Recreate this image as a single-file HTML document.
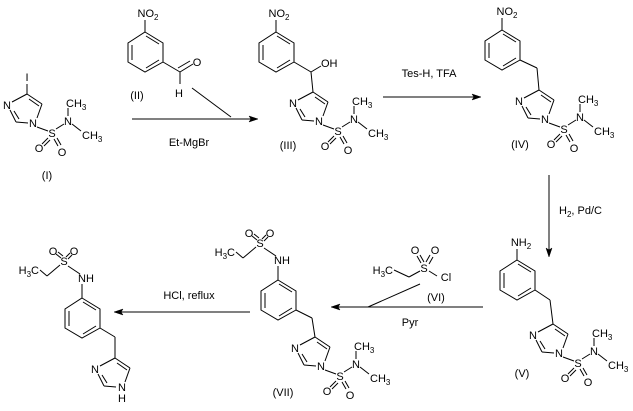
<!DOCTYPE html>
<html><head><meta charset="utf-8"><style>
html,body{margin:0;padding:0;background:#fff}
svg{display:block}
line,polyline,polygon.r{stroke:#000;stroke-width:1;fill:none}
polygon.a{fill:#000;stroke:#000;stroke-width:0.5}
text{font-family:"Liberation Sans",Arial,sans-serif;font-size:11px;fill:#000;text-anchor:middle}
.s{text-anchor:start}.e{text-anchor:end}
</style></head><body>
<svg width="633" height="411" viewBox="0 0 633 411" xmlns="http://www.w3.org/2000/svg">

<!-- unit I -->
<g transform="translate(0,0)">
<line x1="27" y1="84" x2="27" y2="94"/><text x="27" y="81">I</text>
<line x1="27" y1="94" x2="42" y2="104"/><line x1="29" y1="99" x2="39" y2="106"/><line x1="42" y1="104" x2="37" y2="118"/><line x1="16" y1="122" x2="28" y2="123"/><line x1="16" y1="122" x2="10" y2="110"/><line x1="19" y1="119" x2="14" y2="111"/><line x1="12" y1="102" x2="27" y2="94"/>
<text x="33" y="127">N</text><text x="7" y="109">N</text>
<line x1="37" y1="127" x2="48" y2="131"/><text x="52" y="137">S</text><line x1="56" y1="129" x2="64" y2="124"/><text x="68" y="125">N</text>
<line x1="68" y1="116" x2="68" y2="108"/><text class="s" x="66" y="107">CH<tspan font-size="8" dy="3">3</tspan></text>
<line x1="72" y1="124" x2="81" y2="131"/><text class="s" x="82" y="139">CH<tspan font-size="8" dy="3">3</tspan></text>
<line x1="48" y1="138" x2="42" y2="144"/><line x1="50" y1="140" x2="44" y2="146"/><line x1="54" y1="139" x2="58" y2="146"/><line x1="57" y1="138" x2="61" y2="145"/>
<text x="39" y="152">O</text><text x="62" y="156">O</text>
</g>

<!-- unit III -->
<g transform="translate(286,-2)">
<line x1="27" y1="94" x2="42" y2="104"/><line x1="29" y1="99" x2="39" y2="106"/><line x1="42" y1="104" x2="37" y2="118"/><line x1="16" y1="122" x2="28" y2="123"/><line x1="16" y1="122" x2="10" y2="110"/><line x1="19" y1="119" x2="14" y2="111"/><line x1="12" y1="102" x2="27" y2="94"/>
<text x="33" y="127">N</text><text x="7" y="109">N</text>
<line x1="37" y1="127" x2="48" y2="131"/><text x="52" y="137">S</text><line x1="56" y1="129" x2="64" y2="124"/><text x="68" y="125">N</text>
<line x1="68" y1="116" x2="68" y2="108"/><text class="s" x="66" y="107">CH<tspan font-size="8" dy="3">3</tspan></text>
<line x1="72" y1="124" x2="81" y2="131"/><text class="s" x="82" y="139">CH<tspan font-size="8" dy="3">3</tspan></text>
<line x1="48" y1="138" x2="42" y2="144"/><line x1="50" y1="140" x2="44" y2="146"/><line x1="54" y1="139" x2="58" y2="146"/><line x1="57" y1="138" x2="61" y2="145"/>
<text x="39" y="152">O</text><text x="62" y="156">O</text>
</g>

<!-- unit IV -->
<g transform="translate(512,-4)">
<line x1="27" y1="94" x2="42" y2="104"/><line x1="29" y1="99" x2="39" y2="106"/><line x1="42" y1="104" x2="37" y2="118"/><line x1="16" y1="122" x2="28" y2="123"/><line x1="16" y1="122" x2="10" y2="110"/><line x1="19" y1="119" x2="14" y2="111"/><line x1="12" y1="102" x2="27" y2="94"/>
<text x="33" y="127">N</text><text x="7" y="109">N</text>
<line x1="37" y1="127" x2="48" y2="131"/><text x="52" y="137">S</text><line x1="56" y1="129" x2="64" y2="124"/><text x="68" y="125">N</text>
<line x1="68" y1="116" x2="68" y2="108"/><text class="s" x="66" y="107">CH<tspan font-size="8" dy="3">3</tspan></text>
<line x1="72" y1="124" x2="81" y2="131"/><text class="s" x="82" y="139">CH<tspan font-size="8" dy="3">3</tspan></text>
<line x1="48" y1="138" x2="42" y2="144"/><line x1="50" y1="140" x2="44" y2="146"/><line x1="54" y1="139" x2="58" y2="146"/><line x1="57" y1="138" x2="61" y2="145"/>
<text x="39" y="152">O</text><text x="62" y="156">O</text>
</g>

<!-- unit V -->
<g transform="translate(526,230)">
<line x1="27" y1="94" x2="42" y2="104"/><line x1="29" y1="99" x2="39" y2="106"/><line x1="42" y1="104" x2="37" y2="118"/><line x1="16" y1="122" x2="28" y2="123"/><line x1="16" y1="122" x2="10" y2="110"/><line x1="19" y1="119" x2="14" y2="111"/><line x1="12" y1="102" x2="27" y2="94"/>
<text x="33" y="127">N</text><text x="7" y="109">N</text>
<line x1="37" y1="127" x2="48" y2="131"/><text x="52" y="137">S</text><line x1="56" y1="129" x2="64" y2="124"/><text x="68" y="125">N</text>
<line x1="68" y1="116" x2="68" y2="108"/><text class="s" x="66" y="107">CH<tspan font-size="8" dy="3">3</tspan></text>
<line x1="72" y1="124" x2="81" y2="131"/><text class="s" x="82" y="139">CH<tspan font-size="8" dy="3">3</tspan></text>
<line x1="48" y1="138" x2="42" y2="144"/><line x1="50" y1="140" x2="44" y2="146"/><line x1="54" y1="139" x2="58" y2="146"/><line x1="57" y1="138" x2="61" y2="145"/>
<text x="39" y="152">O</text><text x="62" y="156">O</text>
</g>

<!-- unit VII -->
<g transform="translate(288,243)">
<line x1="27" y1="94" x2="42" y2="104"/><line x1="29" y1="99" x2="39" y2="106"/><line x1="42" y1="104" x2="37" y2="118"/><line x1="16" y1="122" x2="28" y2="123"/><line x1="16" y1="122" x2="10" y2="110"/><line x1="19" y1="119" x2="14" y2="111"/><line x1="12" y1="102" x2="27" y2="94"/>
<text x="33" y="127">N</text><text x="7" y="109">N</text>
<line x1="37" y1="127" x2="48" y2="131"/><text x="52" y="137">S</text><line x1="56" y1="129" x2="64" y2="124"/><text x="68" y="125">N</text>
<line x1="68" y1="116" x2="68" y2="108"/><text class="s" x="66" y="107">CH<tspan font-size="8" dy="3">3</tspan></text>
<line x1="72" y1="124" x2="81" y2="131"/><text class="s" x="82" y="139">CH<tspan font-size="8" dy="3">3</tspan></text>
<line x1="48" y1="138" x2="42" y2="144"/><line x1="50" y1="140" x2="44" y2="146"/><line x1="54" y1="139" x2="58" y2="146"/><line x1="57" y1="138" x2="61" y2="145"/>
<text x="39" y="152">O</text><text x="62" y="156">O</text>
</g>

<!-- final imidazole (NH) -->
<g transform="translate(88,264)">
<line x1="27" y1="94" x2="42" y2="104"/><line x1="29" y1="99" x2="39" y2="106"/><line x1="42" y1="104" x2="37" y2="118"/><line x1="16" y1="122" x2="28" y2="123"/><line x1="16" y1="122" x2="10" y2="110"/><line x1="19" y1="119" x2="14" y2="111"/><line x1="12" y1="102" x2="27" y2="94"/>
<text x="34" y="127">N</text><text x="7" y="109">N</text><text x="34" y="138">H</text>
</g>

<!-- benzene rings -->
<g transform="translate(145,32)"><polygon class="r" points="0,0 18,11 18,30 0,40 -17,30 -17,11"/><line x1="1" y1="4" x2="14" y2="12"/><line x1="14" y1="28" x2="1" y2="36"/><line x1="-13" y1="28" x2="-13" y2="13"/></g>
<g transform="translate(276,32)"><polygon class="r" points="0,0 18,11 18,30 0,40 -17,30 -17,11"/><line x1="1" y1="4" x2="14" y2="12"/><line x1="14" y1="28" x2="1" y2="36"/><line x1="-13" y1="28" x2="-13" y2="13"/></g>
<g transform="translate(502,30)"><polygon class="r" points="0,0 18,11 18,30 0,40 -17,30 -17,11"/><line x1="1" y1="4" x2="14" y2="12"/><line x1="14" y1="28" x2="1" y2="36"/><line x1="-13" y1="28" x2="-13" y2="13"/></g>
<g transform="translate(517,260)"><polygon class="r" points="0,0 18,11 18,30 0,40 -17,30 -17,11"/><line x1="1" y1="4" x2="14" y2="12"/><line x1="14" y1="28" x2="1" y2="36"/><line x1="-13" y1="28" x2="-13" y2="13"/></g>
<g transform="translate(278,280)"><polygon class="r" points="0,0 18,11 18,30 0,40 -17,30 -17,11"/><line x1="1" y1="4" x2="14" y2="12"/><line x1="14" y1="28" x2="1" y2="36"/><line x1="-13" y1="28" x2="-13" y2="13"/></g>
<g transform="translate(82,298)"><polygon class="r" points="0,0 18,11 18,30 0,40 -17,30 -17,11"/><line x1="1" y1="4" x2="14" y2="12"/><line x1="14" y1="28" x2="1" y2="36"/><line x1="-13" y1="28" x2="-13" y2="13"/></g>

<!-- II substituents -->
<line x1="145" y1="32" x2="145" y2="20"/><text x="148" y="17">NO<tspan font-size="8" dy="3">2</tspan></text>
<line x1="163" y1="62" x2="180" y2="72"/><line x1="180" y1="72" x2="193" y2="64"/><line x1="178" y1="68" x2="190" y2="61"/>
<text x="197" y="66">O</text><line x1="180" y1="72" x2="180" y2="84"/><text x="179" y="97">H</text>
<text x="137" y="99">(II)</text>

<!-- III substituents -->
<line x1="276" y1="32" x2="276" y2="20"/><text x="279" y="17">NO<tspan font-size="8" dy="3">2</tspan></text>
<line x1="294" y1="62" x2="311" y2="72"/><line x1="311" y1="72" x2="321" y2="66"/><text class="s" x="321" y="67">OH</text>
<line x1="311" y1="72" x2="313" y2="92"/>
<text x="288" y="149">(III)</text>

<!-- IV substituents -->
<line x1="502" y1="30" x2="502" y2="18"/><text x="507" y="15">NO<tspan font-size="8" dy="3">2</tspan></text>
<line x1="520" y1="60" x2="537" y2="68"/><line x1="537" y1="68" x2="539" y2="90"/>
<text x="520" y="148">(IV)</text>

<!-- V substituents -->
<line x1="517" y1="260" x2="517" y2="249"/><text x="521" y="246">NH<tspan font-size="8" dy="3">2</tspan></text>
<line x1="535" y1="290" x2="550" y2="300"/><line x1="550" y1="300" x2="553" y2="324"/>
<text x="522" y="377">(V)</text>

<!-- VII substituents -->
<g>
<line x1="278" y1="280" x2="278" y2="266"/><text class="s" x="274" y="264">NH</text>
<line x1="276" y1="256" x2="264" y2="248"/><text x="260" y="247">S</text>
<line x1="256" y1="247" x2="243" y2="258"/><line x1="243" y1="258" x2="236" y2="252"/>
<text class="e" x="235" y="256">H<tspan font-size="8" dy="3">3</tspan><tspan dy="-3">C</tspan></text>
<line x1="257" y1="240" x2="252" y2="236"/><line x1="259" y1="238" x2="254" y2="234"/>
<line x1="262" y1="239" x2="266" y2="235"/><line x1="264" y1="241" x2="268" y2="237"/>
<text x="249" y="237">O</text><text x="270" y="237">O</text>
</g>
<line x1="296" y1="310" x2="312" y2="318"/><line x1="312" y1="318" x2="315" y2="337"/>
<text x="283" y="396">(VII)</text>

<!-- final substituents -->
<g transform="translate(-196,18)">
<line x1="278" y1="280" x2="278" y2="266"/><text class="s" x="274" y="264">NH</text>
<line x1="276" y1="256" x2="264" y2="248"/><text x="260" y="247">S</text>
<line x1="256" y1="247" x2="243" y2="258"/><line x1="243" y1="258" x2="236" y2="252"/>
<text class="e" x="235" y="256">H<tspan font-size="8" dy="3">3</tspan><tspan dy="-3">C</tspan></text>
<line x1="257" y1="240" x2="252" y2="236"/><line x1="259" y1="238" x2="254" y2="234"/>
<line x1="262" y1="239" x2="266" y2="235"/><line x1="264" y1="241" x2="268" y2="237"/>
<text x="249" y="237">O</text><text x="270" y="237">O</text>
</g>
<line x1="100" y1="328" x2="115" y2="337"/><line x1="115" y1="337" x2="115" y2="358"/>

<!-- VI reagent -->
<text class="e" x="393" y="274">H<tspan font-size="8" dy="3">3</tspan><tspan dy="-3">C</tspan></text>
<line x1="394" y1="270" x2="409" y2="277"/><line x1="409" y1="277" x2="420" y2="271"/>
<text x="424" y="272">S</text><line x1="429" y1="271" x2="437" y2="276"/><text x="446" y="281">Cl</text>
<line x1="421" y1="263" x2="417" y2="256"/><line x1="424" y1="262" x2="420" y2="255"/>
<line x1="426" y1="262" x2="430" y2="255"/><line x1="429" y1="264" x2="433" y2="257"/>
<text x="415" y="254">O</text><text x="435" y="254">O</text>
<text x="436" y="301">(VI)</text>

<text x="47" y="179">(I)</text>

<!-- arrows -->
<line x1="132" y1="119" x2="253" y2="119"/><polygon class="a" points="258,119 249,116 251,119 249,122"/>
<line x1="192" y1="88" x2="231" y2="117"/>
<text x="189" y="146">Et-MgBr</text>

<line x1="383" y1="97" x2="476" y2="97"/><polygon class="a" points="481,97 472,94 474,97 472,100"/>
<text x="429" y="77">Tes-H, TFA</text>

<line x1="549" y1="175" x2="549" y2="252"/><polygon class="a" points="549,257 546,248 549,250 552,248"/>
<text class="s" x="559" y="214">H<tspan font-size="8" dy="3">2</tspan><tspan dy="-3">, Pd/C</tspan></text>

<line x1="483" y1="307" x2="336" y2="307"/><polygon class="a" points="331,307 340,304 338,307 340,310"/>
<line x1="368" y1="307" x2="420" y2="284"/>
<text x="410" y="326">Pyr</text>

<line x1="250" y1="312" x2="119" y2="312"/><polygon class="a" points="114,312 123,309 121,312 123,315"/>
<text x="189" y="299">HCl, reflux</text>

</svg>
</body></html>
